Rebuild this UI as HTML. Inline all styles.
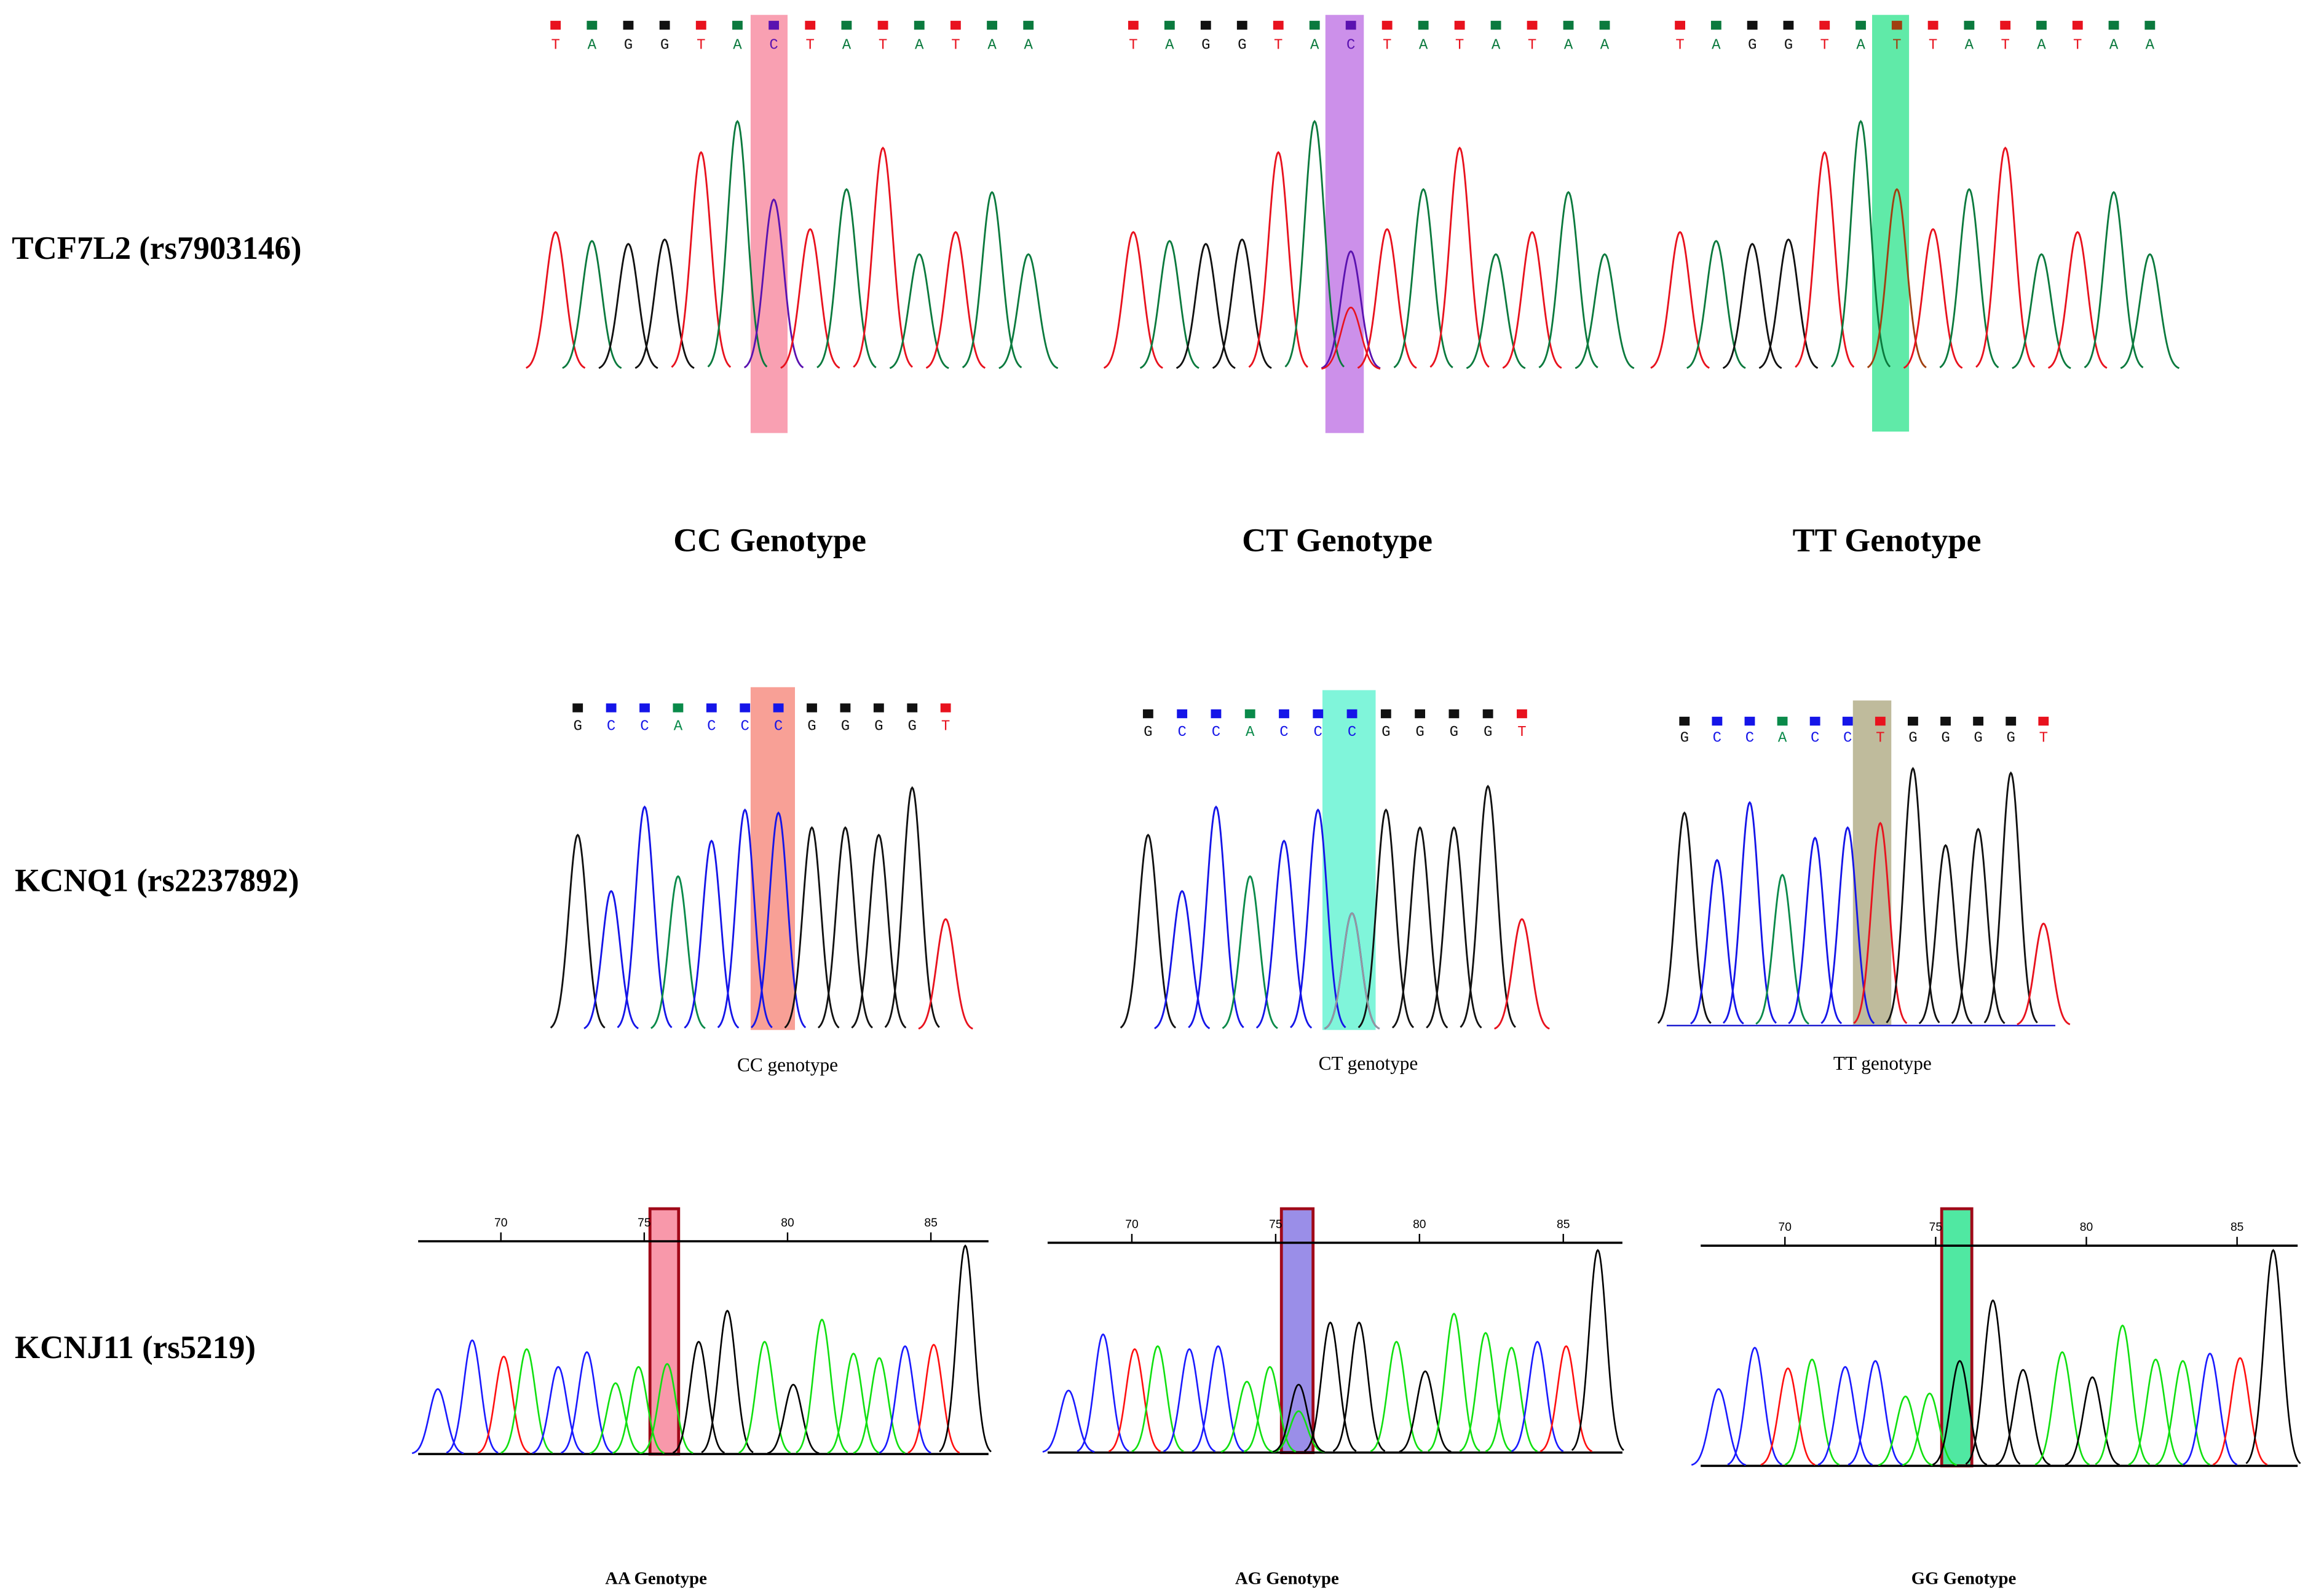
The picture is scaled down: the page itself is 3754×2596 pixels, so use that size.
<!DOCTYPE html>
<html><head><meta charset="utf-8"><style>
html,body{margin:0;padding:0;background:#fff;}
svg{display:block;}
</style></head><body>
<svg id="fig" xmlns="http://www.w3.org/2000/svg" width="3754" height="2596" viewBox="0 0 1562 1080">
<rect x="0" y="0" width="1562" height="1080" fill="#fff"/>
<g font-family="'Liberation Serif', serif" font-weight="bold" fill="#000">
<text x="8" y="175" font-size="22">TCF7L2 (rs7903146)</text>
<text x="10" y="603" font-size="22">KCNQ1 (rs2237892)</text>
<text x="10" y="919" font-size="22">KCNJ11 (rs5219)</text>
<text x="521" y="373" font-size="22.5" text-anchor="middle">CC Genotype</text>
<text x="905" y="373" font-size="22.5" text-anchor="middle">CT Genotype</text>
<text x="1277" y="373" font-size="22.5" text-anchor="middle">TT Genotype</text>
<text x="444" y="1072" font-size="12" text-anchor="middle">AA Genotype</text>
<text x="871" y="1072" font-size="12" text-anchor="middle">AG Genotype</text>
<text x="1329" y="1072" font-size="12" text-anchor="middle">GG Genotype</text>
</g>
<g font-family="'Liberation Serif', serif" fill="#000" font-size="13">
<text x="533" y="725" text-anchor="middle">CC genotype</text>
<text x="926" y="724" text-anchor="middle">CT genotype</text>
<text x="1274" y="724" text-anchor="middle">TT genotype</text>
</g>
<g id="layer"></g>
</svg>
<script>
// ---- Row 1: TCF7L2 (bases + signal heights) ----
const tcfBases = ["T","A","G","G","T","A","C","T","A","T","A","T","A","A"];
const tcfCCHeights = [93,87,85,88,147,168,115,95,122,150,78,93,120,78];
const tcfCTHeights = [93,87,85,88,147,168,80,95,122,150,78,93,120,78];
const tcfCTSecondary = [0,0,0,0,0,0,42,0,0,0,0,0,0,0];
const tcfTTHeights = [93,87,85,88,147,168,122,95,122,150,78,93,120,78];
const tcfTTBases = ["T","A","G","G","T","A","T","T","A","T","A","T","A","A"];
// ---- Row 2: KCNQ1 ----
const kcnqBases = ["G","C","C","A","C","C","C","G","G","G","G","T"];
const kcnqCCHeights = [132,94,151,104,128,149,147,137,137,132,164,75];
const kcnqCTHeights = [132,94,151,104,128,149,79,149,137,137,165,75];
const kcnqCTSecondary = [0,0,0,0,0,0,79,0,0,0,0,0];
const kcnqTTBases = ["G","C","C","A","C","C","T","G","G","G","G","T"];
const kcnqTTHeights = [144,112,151,102,127,134,137,174,122,133,171,69];
// ---- Row 3: KCNJ11 (positions in base units on the 70-85 axis) ----
const kcnjTicks = [70,75,80,85];
const kcnjBases = ["C","C","T","A","C","C","A","A","A","G","G","A","G","A","A","A","C","T","G"];
const kcnjPositions = [67.8,69.0,70.1,70.9,72.0,73.0,74.0,74.8,75.8,76.9,77.9,79.2,80.2,81.2,82.3,83.2,84.1,85.1,86.2];
const kcnjAAHeights = [44,77,66,71,59,69,48,59,61,76,97,76,47,91,68,65,73,74,141];
const kcnjAGHeights = [42,80,70,72,70,72,48,58,28,88,88,75,55,94,81,71,75,72,137];
const kcnjAGSiteBlack = 46;
const kcnjGGBases = ["C","C","T","A","C","C","A","A","G","G","G","A","G","A","A","A","C","T","G"];
const kcnjGGHeights = [52,80,66,72,67,71,47,49,71,112,65,77,60,95,72,71,76,73,146];

const NS="http://www.w3.org/2000/svg";
const layer=document.getElementById('layer');
function el(tag,attrs,parent){const e=document.createElementNS(NS,tag);for(const k in attrs)e.setAttribute(k,attrs[k]);(parent||layer).appendChild(e);return e;}
const col1={T:"#e8121e",A:"#0b7a3e",G:"#111",C:"#5a12b0"};
const col2={T:"#e8121e",A:"#0a8a4a",G:"#111",C:"#1515e8"};
const col3={T:"#ff1010",A:"#10e010",G:"#000",C:"#1a1aff"};
function linScale(d0,d1,r0,r1){return v=>r0+(v-d0)*(r1-r0)/(d1-d0);}
function peak(g,cx,base,h,sig,color,w,name){
  let d="";
  for(let i=-30;i<=30;i++){const dx=i*sig*3/30;const y=base-h*Math.exp(-dx*dx/(2*sig*sig));d+=(i===-30?"M":"L")+(cx+dx).toFixed(2)+","+y.toFixed(2);}
  const p=el('path',{d:d,fill:"none",stroke:color,"stroke-width":w},g);
  
  
}
function seqPanel(o){
  const g=el('g',{});
  
  
  const hl=el('rect',{x:o.hl[0],y:o.hl[1],width:o.hl[2]-o.hl[0],height:o.hl[3]-o.hl[1],fill:o.hlColor},g);
  
  
  const x=linScale(0,o.bases.length-1,o.x0,o.x1);
  const sp=(o.x1-o.x0)/(o.bases.length-1);
  o.bases.forEach((b,i)=>{
    const c=(o.siteColor&&i===o.site)?o.siteColor:o.cols[b];
    const s=el('rect',{x:x(i)-3.5,y:o.sqY,width:7,height:6,fill:c},g);
    
    
    const t=el('text',{x:x(i),y:o.letY,"font-family":"'Liberation Mono', monospace","font-size":10,"text-anchor":"middle",fill:c},g);
    t.textContent=b;
    
    
  });
  if(o.baseLine){const l=el('line',{x1:o.x0-12,x2:o.x1+8,y1:o.base,y2:o.base,stroke:o.baseLine,"stroke-width":1},g);}
  o.heights.forEach((h,i)=>{
    const c=(o.siteColor&&i===o.site)?o.siteColor:o.cols[o.bases[i]];
    peak(g,x(i),o.base,h,sp*0.27,c,1.2,'trace-peak');
  });
  if(o.secondary)o.secondary.forEach((h,i)=>{if(h>0)peak(g,x(i),o.base,h,sp*0.27,o.secColor,1.1,'secondary-peak');});
}
seqPanel({name:"tcf7l2-cc-panel",bases:tcfBases,heights:tcfCCHeights,x0:376,x1:696,base:250,sqY:14,letY:33,cols:col1,hl:[508,10,533,293],hlColor:"#f9a0b2"});
seqPanel({name:"tcf7l2-ct-panel",bases:tcfBases,heights:tcfCTHeights,secondary:tcfCTSecondary,secColor:"#e8121e",x0:767,x1:1086,base:250,sqY:14,letY:33,cols:col1,hl:[897,10,923,293],hlColor:"#cc90ea"});
seqPanel({name:"tcf7l2-tt-panel",bases:tcfTTBases,heights:tcfTTHeights,x0:1137,x1:1455,base:250,sqY:14,letY:33,cols:col1,site:6,siteColor:"#a04010",hl:[1267,10,1292,292],hlColor:"#60eaa8"});
seqPanel({name:"kcnq1-cc-panel",bases:kcnqBases,heights:kcnqCCHeights,x0:391,x1:640,base:697,sqY:476,letY:494,cols:col2,hl:[508,465,538,697],hlColor:"#f8a096"});
seqPanel({name:"kcnq1-ct-panel",bases:kcnqBases,heights:kcnqCTHeights,secondary:kcnqCTSecondary,secColor:"#999",x0:777,x1:1030,base:697,sqY:480,letY:498,cols:col2,hl:[895,467,931,697],hlColor:"#80f5da"});
seqPanel({name:"kcnq1-tt-panel",bases:kcnqTTBases,heights:kcnqTTHeights,x0:1140,x1:1383,base:694,sqY:485,letY:502,cols:col2,hl:[1254,474,1280,694],hlColor:"#bfbb9c",baseLine:"#2020d0"});

function axisPanel(o){
  const g=el('g',{});
  
  
  const x=linScale(70,85,o.x70,o.x85);
  const hl=el('rect',{x:x(o.hl[0]),y:o.hlTop,width:x(o.hl[1])-x(o.hl[0]),height:o.base-o.hlTop,fill:o.hlColor,stroke:"#a00818","stroke-width":2},g);
  
  
  const ax=el('line',{x1:o.ax0,x2:o.ax1,y1:o.axY,y2:o.axY,stroke:"#000","stroke-width":1.5},g);
  
  
  kcnjTicks.forEach(t=>{
    const tk=el('line',{x1:x(t),x2:x(t),y1:o.axY,y2:o.axY-6,stroke:"#000","stroke-width":1},g);
    
    
    const tl=el('text',{x:x(t),y:o.axY-10,"font-family":"'Liberation Sans', sans-serif","font-size":8,"text-anchor":"middle",fill:"#000"},g);
    tl.textContent=t;
    
    
  });
  const bl=el('line',{x1:o.ax0,x2:o.ax1,y1:o.base,y2:o.base,stroke:"#000","stroke-width":1.5},g);
  
  
  const sig=(o.x85-o.x70)/15*0.3;
  o.positions.forEach((p,i)=>{peak(g,x(p),o.base,o.heights[i],sig,col3[o.bases[i]],1.1,'trace-peak');});
  if(o.extra)peak(g,x(o.extra[0]),o.base,o.extra[1],sig,"#000",1.1,'secondary-peak');
}
axisPanel({name:"kcnj11-aa-panel",bases:kcnjBases,positions:kcnjPositions,heights:kcnjAAHeights,x70:339,x85:630,ax0:283,ax1:669,axY:840,base:984,hl:[75.2,76.2],hlTop:818,hlColor:"#f898aa"});
axisPanel({name:"kcnj11-ag-panel",bases:kcnjBases,positions:kcnjPositions,heights:kcnjAGHeights,extra:[75.8,kcnjAGSiteBlack],x70:766,x85:1058,ax0:709,ax1:1098,axY:841,base:983,hl:[75.2,76.3],hlTop:818,hlColor:"#9a8ee8"});
axisPanel({name:"kcnj11-gg-panel",bases:kcnjGGBases,positions:kcnjPositions,heights:kcnjGGHeights,x70:1208,x85:1514,ax0:1151,ax1:1555,axY:843,base:992,hl:[75.2,76.2],hlTop:818,hlColor:"#50e8a2"});
</script>
</body></html>
